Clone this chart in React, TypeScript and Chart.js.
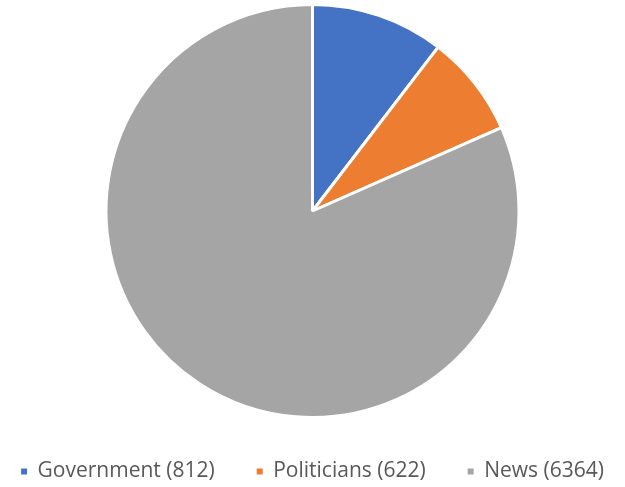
import React, { useEffect, useRef } from "react";
import { Chart, registerables } from "chart.js";

Chart.register(...registerables);

const categories = ["Government (812)", "Politicians (622)", "News (6364)"];
const values = [812, 622, 6364];
const colors = ["#4472C4", "#ED7D31", "#A5A5A5"];

const LEGEND_PADDING = 42;

// Keep all legend items on one row (Chart.js reserves an extra padding in its wrap checks).
const oneRowLegend = {
  id: "oneRowLegend",
  beforeLayout(chart: any) {
    const lg = chart.legend;
    if (lg && !lg.__oneRow) {
      const origFit = lg._fitRows;
      if (typeof origFit === "function") {
        lg._fitRows = function (...args: any[]) {
          const mw = this.maxWidth;
          this.maxWidth = mw + 2 * LEGEND_PADDING;
          const r = origFit.apply(this, args);
          this.maxWidth = mw;
          return r;
        };
      }
      const origDraw = lg._draw;
      if (typeof origDraw === "function") {
        lg._draw = function (...args: any[]) {
          const l = this.left;
          const rt = this.right;
          this.left = l - LEGEND_PADDING;
          this.right = rt + LEGEND_PADDING;
          try {
            return origDraw.apply(this, args);
          } finally {
            this.left = l;
            this.right = rt;
          }
        };
      }
      lg.__oneRow = true;
    }
  },
};

export default function App() {
  const ref = useRef<HTMLCanvasElement | null>(null);
  useEffect(() => {
    document.body.style.margin = "0";
    const canvas = ref.current;
    if (!canvas) return;
    const chart = new Chart(canvas, {
      type: "pie",
      data: {
        labels: categories,
        datasets: [
          {
            data: values,
            backgroundColor: colors,
            borderColor: "#ffffff",
            borderWidth: 3,
          },
        ],
      },
      plugins: [oneRowLegend],
      options: {
        animation: false,
        responsive: false,
        layout: { padding: { top: 3, bottom: -5, left: 0, right: 0 } },
        plugins: {
          tooltip: { enabled: false },
          legend: {
            position: "bottom",
            labels: {
              usePointStyle: true,
              pointStyle: "rect",
              boxWidth: 6,
              boxHeight: 6,
              padding: LEGEND_PADDING,
              color: "#595959",
              font: { family: "Open Sans", size: 21 },
              generateLabels: (c: any) => {
                const gen = (Chart as any).overrides.pie.plugins.legend.labels.generateLabels;
                const items = gen(c);
                return items.map((it: any) => ({ ...it, lineWidth: 0, strokeStyle: "transparent" }));
              },
            },
          },
        },
      },
    });
    return () => chart.destroy();
  }, []);
  return (
    <div style={{ width: 625, height: 487 }}>
      <canvas ref={ref} width={625} height={487} style={{ display: "block" }} />
    </div>
  );
}
